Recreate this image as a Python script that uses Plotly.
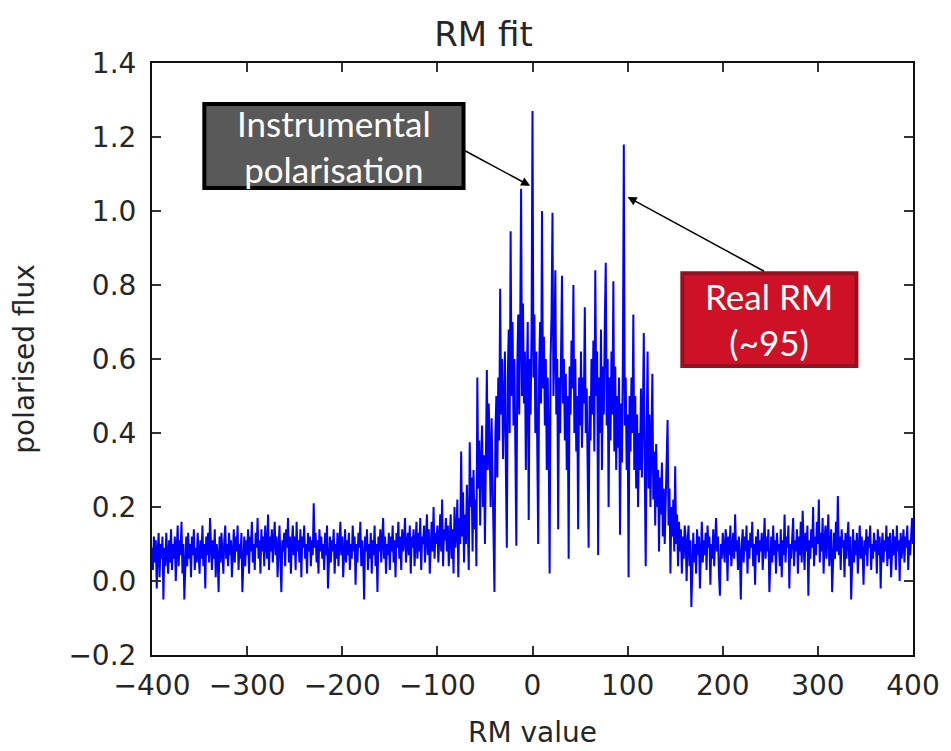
import numpy as np
import plotly.graph_objects as go

# ---- data ----
# left background: RM -400 .. -91, step 1
flux_left = [
    0.09, 0.03, 0.12, 0.05, 0.11, -0.02, 0.08, 0.13, 0.01, 0.10,
    0.06, 0.12, -0.05, 0.09, 0.04, 0.13, 0.07, 0.02, 0.11, 0.05,
    0.14, 0.03, 0.10, 0.06, 0.12, 0.00, 0.09, 0.15, 0.04, 0.11,
    0.07, 0.16, 0.02, 0.10, -0.05, 0.08, 0.12, 0.04, 0.13, 0.06,
    0.10, 0.01, 0.12, 0.07, 0.14, 0.03, 0.09, 0.05, 0.13, 0.08,
    0.02, 0.11, 0.06, 0.15, 0.04, 0.10, -0.02, 0.12, 0.07, 0.13,
    0.05, 0.17, 0.08, 0.03, 0.11, 0.06, 0.14, 0.01, 0.10, 0.07,
    -0.03, 0.12, 0.05, 0.13, 0.08, 0.02, 0.11, 0.15, 0.06, 0.10,
    0.04, 0.13, 0.07, 0.11, 0.01, 0.09, 0.14, 0.05, 0.12, 0.08,
    0.15, 0.03, 0.10, 0.06, 0.13, -0.03, 0.09, 0.12, 0.04, 0.11,
    0.07, 0.14, 0.02, 0.12, 0.08, 0.16, 0.05, 0.10, 0.03, 0.13,
    0.09, 0.17, 0.06, 0.11, 0.02, 0.14, 0.08, 0.12, 0.04, 0.15,
    0.10, 0.06, 0.18, 0.03, 0.12, 0.08, 0.14, 0.05, 0.11, 0.16,
    0.07, 0.12, 0.01, 0.10, 0.15, 0.06, -0.03, 0.11, 0.08, 0.13,
    0.04, 0.14, 0.09, 0.17, 0.05, 0.12, 0.02, 0.10, 0.15, 0.07,
    0.12, 0.03, 0.16, 0.08, 0.11, 0.05, 0.14, 0.01, 0.12, 0.09,
    0.15, 0.06, 0.10, 0.02, 0.13, 0.08, 0.12, 0.04, 0.11, 0.07,
    0.21, 0.09, 0.13, 0.05, 0.11, 0.02, 0.14, 0.08, 0.12, 0.06,
    0.10, 0.03, 0.13, 0.07, 0.15, -0.02, 0.09, 0.12, 0.05, 0.11,
    0.08, 0.14, 0.02, 0.10, 0.06, 0.13, 0.04, 0.11, 0.16, 0.07,
    0.12, 0.01, 0.09, 0.14, 0.05, 0.11, 0.07, 0.13, 0.03, 0.10,
    0.06, 0.15, 0.08, 0.12, -0.01, 0.10, 0.05, 0.13, 0.09, 0.16,
    0.04, 0.11, 0.07, -0.05, 0.12, 0.08, 0.14, 0.03, 0.10, 0.06,
    0.13, 0.02, 0.11, 0.07, 0.15, 0.04, 0.10, -0.03, 0.12, 0.08,
    0.14, 0.05, 0.11, 0.17, 0.06, 0.12, 0.02, 0.10, 0.07, 0.13,
    0.03, 0.12, 0.08, 0.15, 0.05, 0.11, 0.01, 0.13, 0.09, 0.16,
    0.06, 0.12, 0.03, 0.14, 0.08, 0.11, 0.17, 0.05, 0.10, 0.13,
    0.07, 0.15, 0.02, 0.12, 0.09, 0.14, 0.04, 0.11, 0.16, 0.06,
    0.13, 0.08, 0.17, 0.03, 0.12, 0.10, 0.15, 0.05, 0.13, 0.18,
    0.07, 0.14, 0.02, 0.12, 0.16, 0.08, 0.20, 0.06, 0.13, 0.10,
    0.15, 0.05, 0.12, 0.18, 0.08, 0.22, 0.04, 0.14, 0.11, 0.17,
]
# central structure: RM -90 .. 160, step 1
flux_center = [
    0.08, 0.15, 0.04, 0.12, 0.18, 0.06, 0.14, 0.02, 0.20, 0.09,
    0.13, 0.22, 0.01, 0.17, 0.10, 0.35, 0.12, 0.24, 0.05, 0.18,
    0.10, 0.26, 0.15, 0.03, 0.375, 0.20, 0.28, 0.08, 0.30, 0.14,
    0.22, 0.04, 0.55, 0.25, 0.38, 0.15, 0.32, 0.42, 0.20, 0.34,
    0.10, 0.45, 0.57, 0.30, 0.48, 0.35, 0.20, 0.44, 0.31, 0.12,
    -0.03, 0.40, 0.50, 0.28, 0.55, 0.38, 0.79, 0.45, 0.60, 0.33,
    0.50, 0.62, 0.30, 0.09, 0.55, 0.68, 0.40, 0.945, 0.50, 0.70,
    0.42, 0.60, 0.35, 0.095, 0.58, 0.72, 0.45, 0.66, 1.06, 0.50,
    0.75, 0.48, 0.62, 0.30, 0.55, 0.70, 0.165, 0.60, 0.45, 0.68,
    1.27, 0.55, 0.72, 0.40, 0.62, 0.35, 0.10, 0.58, 0.70, 0.48,
    1.00, 0.52, 0.66, 0.42, 0.60, 0.30, 0.55, 0.38, 0.02, 0.60,
    0.72, 0.995, 0.50, 0.62, 0.84, 0.45, 0.60, 0.14, 0.55, 0.40,
    0.66, 0.825, 0.48, 0.60, 0.38, 0.56, 0.30, 0.50, 0.06, 0.58,
    0.45, 0.65, 0.52, 0.80, 0.40, 0.60, 0.35, 0.50, 0.14, 0.55,
    0.42, 0.62, 0.36, 0.55, 0.48, 0.74, 0.40, 0.52, 0.30, 0.09,
    0.50, 0.38, 0.60, 0.45, 0.65, 0.35, 0.84, 0.50, 0.62, 0.07,
    0.55, 0.40, 0.68, 0.30, 0.58, 0.45, 0.70, 0.86, 0.42, 0.60,
    0.20, 0.55, 0.38, 0.62, 0.45, 0.81, 0.35, 0.58, 0.30, 0.50,
    0.36, 0.55, 0.125, 0.48, 0.32, 0.60, 1.18, 0.42, 0.55, 0.30,
    0.45, 0.01, 0.50, 0.35, 0.55, 0.40, 0.72, 0.30, 0.50, 0.25,
    0.45, 0.20, 0.40, 0.30, 0.52, 0.28, 0.45, 0.67, 0.30, 0.04,
    0.40, 0.62, 0.25, 0.45, 0.20, 0.38, 0.56, 0.22, 0.35, 0.15,
    0.37, 0.20, 0.30, 0.08, 0.28, 0.18, 0.32, 0.12, 0.25, 0.10,
    0.22, 0.30, 0.435, 0.15, 0.25, 0.02, 0.20, 0.12, 0.22, 0.08,
    0.31, 0.10, 0.18, 0.04, 0.16, 0.08, 0.14, 0.02, 0.12, 0.06,
    0.15,
]
# right background: RM 161 .. 400, step 1
flux_right = [
    0.12, 0.00, 0.10, 0.15, 0.04, 0.11, -0.07, 0.08, 0.13, 0.05,
    0.10, 0.02, 0.14, 0.07, 0.12, -0.02, 0.09, 0.16, 0.05, 0.11,
    0.07, 0.13, 0.03, 0.15, 0.09, 0.12, -0.01, 0.10, 0.06, 0.14,
    0.04, 0.11, 0.17, 0.08, 0.12, 0.02, -0.04, 0.10, 0.06, 0.13,
    0.09, 0.05, 0.14, 0.11, 0.00, 0.12, 0.07, 0.15, 0.04, 0.10,
    0.13, 0.06, 0.18, 0.08, 0.11, 0.03, 0.12, 0.07, -0.05, 0.10,
    0.14, 0.05, 0.12, 0.08, 0.15, 0.02, 0.11, 0.06, 0.13, 0.09,
    0.16, 0.04, 0.10, -0.01, 0.12, 0.07, 0.14, 0.05, 0.11, 0.08,
    0.13, 0.03, 0.10, 0.17, 0.06, 0.12, 0.08, 0.14, -0.03, 0.09,
    0.12, 0.05, 0.15, 0.07, 0.11, 0.02, 0.13, 0.08, 0.10, 0.04,
    0.14, 0.01, 0.11, 0.07, 0.18, 0.05, 0.12, 0.09, 0.15, -0.02,
    0.10, 0.06, 0.13, 0.17, 0.04, 0.11, 0.08, 0.14, 0.02, 0.12,
    0.07, 0.16, 0.05, 0.19, 0.10, 0.03, 0.13, 0.08, 0.15, -0.04,
    0.11, 0.06, 0.14, 0.09, 0.20, 0.04, 0.12, 0.07, 0.16, 0.10,
    0.22, 0.05, 0.13, 0.08, 0.17, 0.02, 0.11, 0.15, 0.06, 0.12,
    0.18, 0.04, 0.10, 0.14, -0.03, 0.09, 0.13, 0.06, 0.16, 0.08,
    0.23, 0.07, 0.12, 0.03, 0.14, 0.09, 0.11, 0.01, 0.13, 0.06,
    0.10, 0.16, 0.04, 0.12, -0.05, 0.08, 0.14, 0.05, 0.11, 0.07,
    0.13, 0.02, 0.10, 0.15, 0.06, 0.12, 0.08, -0.01, 0.11, 0.07,
    0.14, 0.04, 0.12, 0.09, 0.15, 0.03, 0.10, 0.06, 0.13, 0.08,
    0.11, 0.02, 0.14, 0.07, 0.12, -0.02, 0.09, 0.13, 0.05, 0.11,
    0.08, 0.15, 0.04, 0.12, 0.06, 0.13, 0.01, 0.10, 0.14, 0.07,
    0.12, 0.03, 0.15, 0.08, 0.11, 0.00, 0.13, 0.06, 0.10, 0.14,
    0.05, 0.12, 0.09, 0.15, 0.03, 0.11, 0.07, 0.13, 0.17, 0.10,
]

rm_left = np.arange(-400, -90, 1)
rm_center = np.arange(-90, 161, 1)
rm_right = np.arange(161, 401, 1)

x_ticks = [-400, -300, -200, -100, 0, 100, 200, 300, 400]
y_ticks = [-0.2, 0.0, 0.2, 0.4, 0.6, 0.8, 1.0, 1.2, 1.4]

rm = np.concatenate([rm_left, rm_center, rm_right])
flux = np.concatenate([flux_left, flux_center, flux_right])

fig = go.Figure()
fig.add_trace(go.Scatter(x=rm, y=flux, mode="lines",
                         line=dict(color="#0000ff", width=2),
                         showlegend=False, hoverinfo="skip"))

tick_font = dict(family="DejaVu Sans", size=28, color="#262626")
label_font = dict(family="DejaVu Sans", size=28, color="#262626")
axis_common = dict(showline=True, linecolor="#111", linewidth=2, mirror="ticks",
                   ticks="inside", ticklen=9, tickwidth=1.5, tickcolor="#333",
                   showgrid=False, zeroline=False, tickfont=tick_font,
                   automargin=False)

fig.update_xaxes(range=[-400, 400], tickvals=x_ticks, ticklabelstandoff=4,
                 title=dict(text="RM value", font=label_font, standoff=22),
                 **axis_common)
fig.update_yaxes(range=[-0.2, 1.4], tickvals=y_ticks, tickformat=".1f", ticklabelstandoff=8,
                 title=dict(text="polarised flux", font=label_font, standoff=26),
                 **axis_common)

# annotation boxes
fig.add_shape(type="rect", xref="x", yref="y", x0=-345, x1=-72.5, y0=1.062, y1=1.289,
              fillcolor="#595959", line=dict(color="#000000", width=4), layer="above")
fig.add_shape(type="rect", xref="x", yref="y", x0=157.5, x1=340.5, y0=0.581, y1=0.832,
              fillcolor="#cd1228", line=dict(color="#98101f", width=4), layer="above")

box_font = dict(family="Lato", size=35, color="white")
fig.add_annotation(x=-209, y=1.176, xref="x", yref="y", text="Instrumental<br>polarisation",
                   showarrow=False, font=box_font, align="center")
fig.add_annotation(x=249, y=0.707, xref="x", yref="y", text="Real RM<br>(~95)",
                   showarrow=False, font=box_font, align="center")

# arrows
fig.add_annotation(x=-2.5, y=1.068, ax=-72.5, ay=1.165, xref="x", yref="y", axref="x", ayref="y",
                   text="", showarrow=True, arrowhead=2, arrowsize=1.2, arrowwidth=1.5, arrowcolor="black")
fig.add_annotation(x=100, y=1.038, ax=245, ay=0.835, xref="x", yref="y", axref="x", ayref="y",
                   text="", showarrow=True, arrowhead=2, arrowsize=1.2, arrowwidth=1.5, arrowcolor="black")

fig.update_layout(
    width=951, height=751,
    margin=dict(l=144, r=46, t=55, b=104),
    paper_bgcolor="white", plot_bgcolor="white",
    title=dict(text="RM fit", x=0.5, xanchor="center", y=0.965, yanchor="middle",
               font=dict(family="DejaVu Sans", size=34, color="#262626")),
)

fig.write_html("out.html")
